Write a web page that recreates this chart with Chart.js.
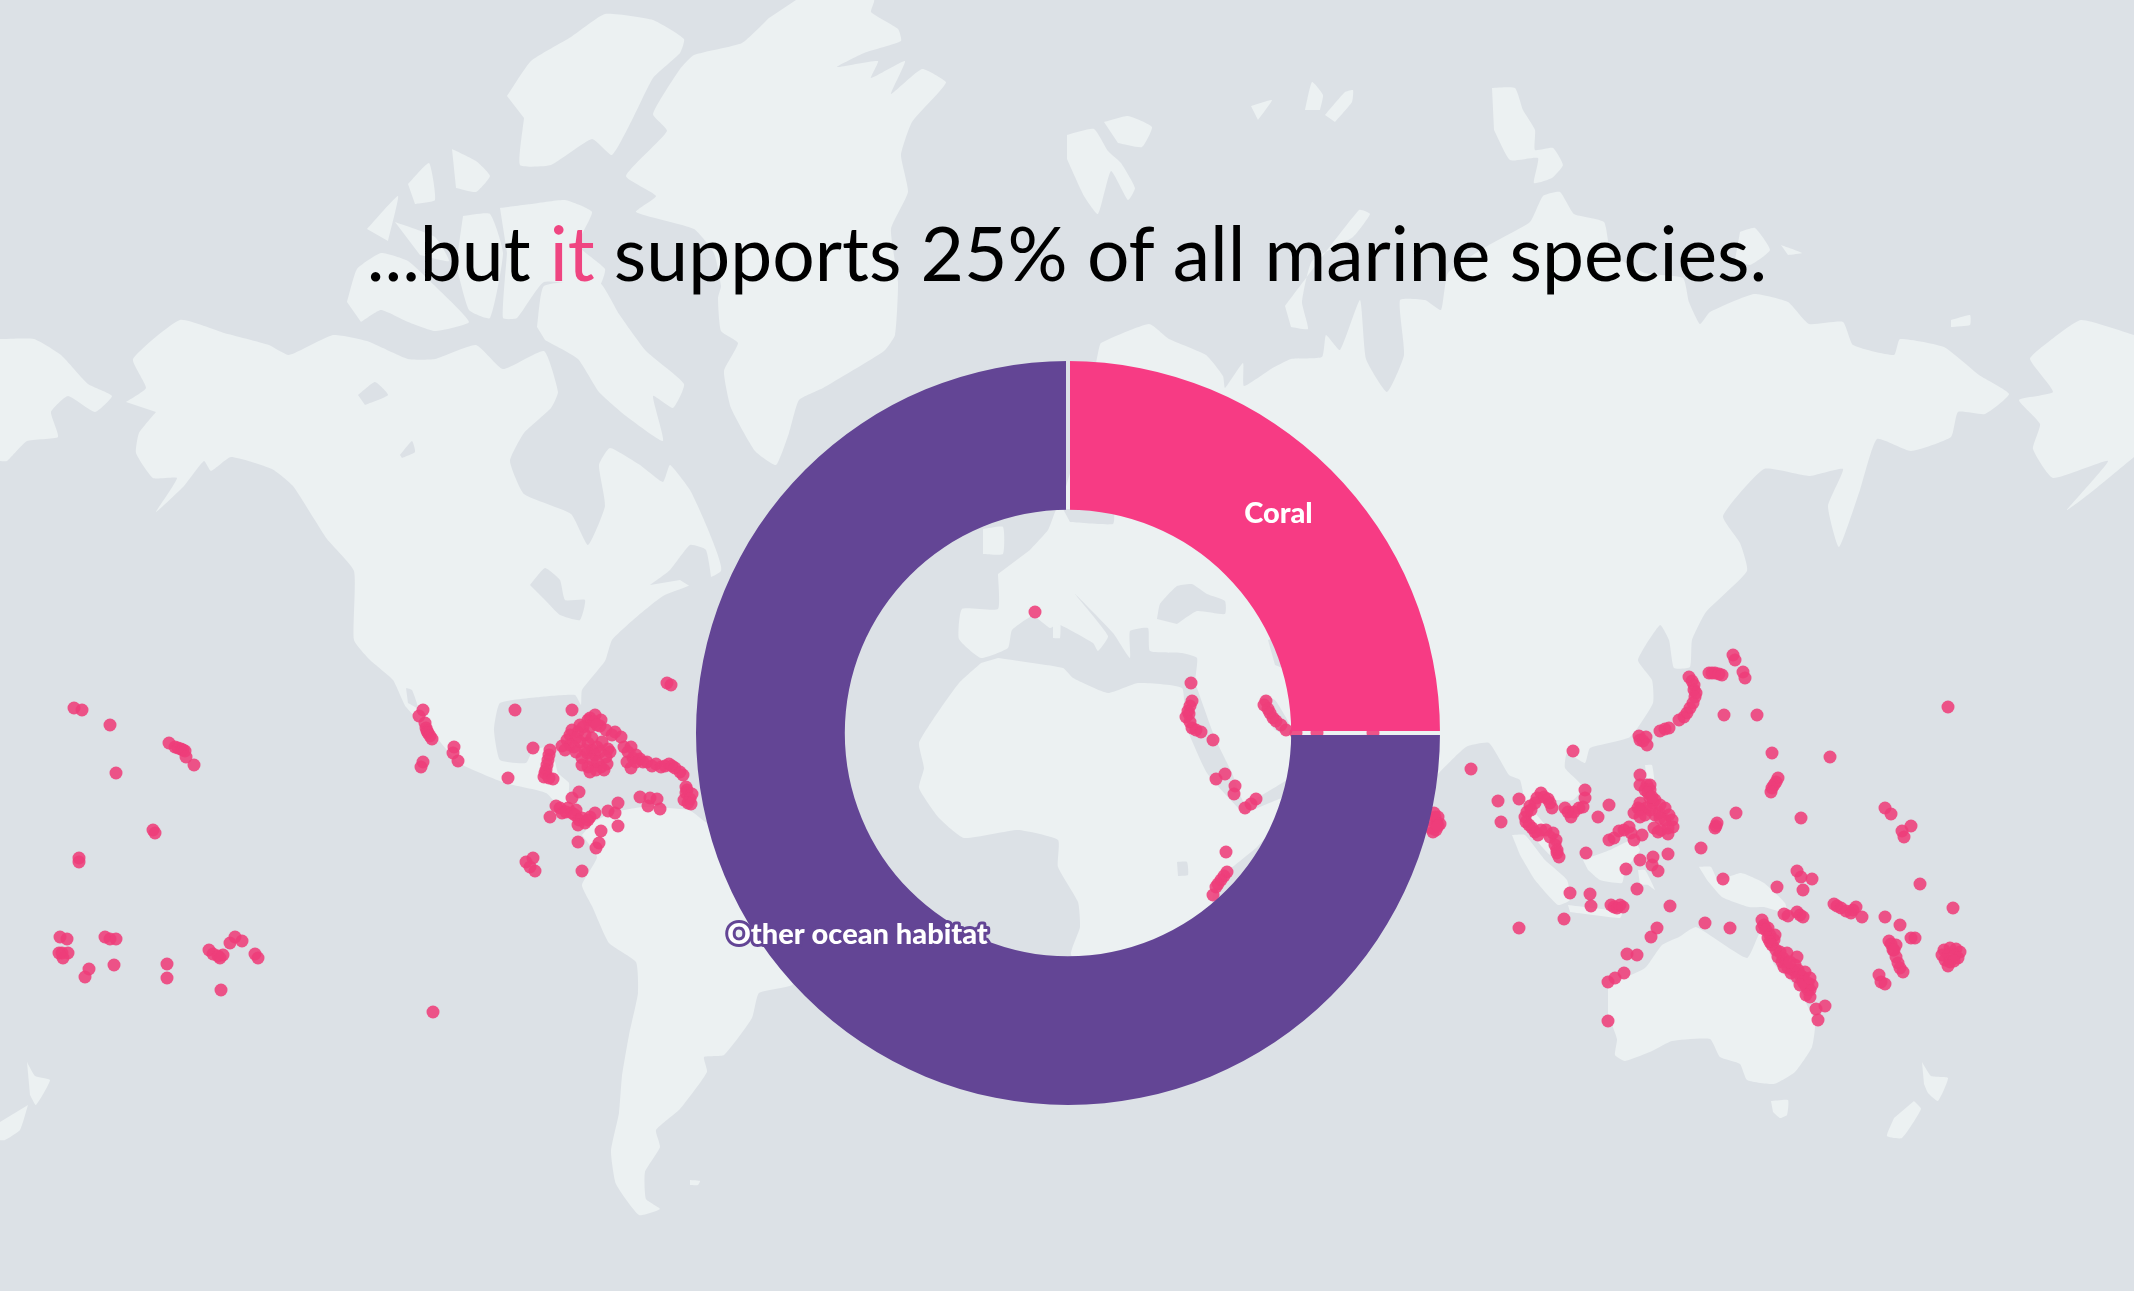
<!DOCTYPE html>
<html>
<head>
<meta charset="utf-8">
<title>Coral</title>
<script src="https://cdn.jsdelivr.net/npm/chart.js@4/dist/chart.umd.min.js"></script>
<style>
    html, body { margin: 0; padding: 0; background: #dce1e6; }
    #page { position: relative; width: 2134px; height: 1291px; overflow: hidden; }
    #mapChart { position: absolute; left: 0; top: 0; }
    #ringChart { position: absolute; left: 696px; top: 361px; }
    h1 {
        position: absolute; left: 0; top: 204px; width: 2134px; margin: 0;
        text-align: center; font: 400 75px Lato, sans-serif; line-height: 96px; color: #000;
    }
    h1 span { color: #ef4581; }
</style>
</head>
<body>
<div id="page">
    <canvas id="mapChart" width="2134" height="1291"></canvas>
    <canvas id="ringChart" width="744" height="744"></canvas>
    <h1>...but <span>it</span> supports 25% of all marine species.</h1>
</div>
<script>
// doughnut values
const habitats = ['Coral', 'Other ocean habitat'];
const speciesShare = [25, 75];

// reef sites, map units (x, y)
const reefsPacific = [[74,708],[82,710],[110,725],[116,773],[169,743],[175,747],[178,748],[181,749],[183,750],[185,751],[186,757],[194,765],[153,830],[155,833],[79,858],[79,862],[60,937],[67,939],[62,953],[68,953],[63,958],[59,953],[105,937],[110,939],[116,939],[89,969],[85,977],[114,965],[167,964],[167,978],[209,950],[213,954],[218,956],[223,955],[220,958],[230,943],[235,937],[242,941],[255,954],[258,958],[221,990],[433,1012]];
const reefsMexico = [[423,710],[419,716],[425,723],[426,728],[427,731],[428,733],[430,736],[432,739],[454,747],[453,753],[458,761],[423,762],[421,767],[508,778],[515,710],[533,748],[572,710],[667,683],[671,685]];
const reefsCaribbean = [[550,750],[549,755],[548,760],[547,765],[546,770],[545,773],[544,777],[549,778],[553,779],[595,715],[588,720],[601,720],[590,718],[594,722],[600,726],[590,727],[583,727],[597,725],[572,730],[606,730],[615,732],[621,737],[578,732],[570,735],[567,740],[576,738],[585,735],[580,742],[570,745],[562,746],[574,747],[588,743],[597,747],[608,749],[602,742],[592,750],[600,752],[587,753],[585,750],[576,752],[565,750],[610,752],[582,758],[595,755],[606,757],[592,760],[582,765],[607,764],[588,767],[601,767],[597,762],[596,770],[604,770],[590,772],[592,738],[612,735],[580,725],[624,747],[631,747],[633,758],[627,762],[628,752],[636,755],[631,768],[636,762],[640,759],[643,762],[647,762],[652,766],[656,764],[661,767],[665,766],[669,764],[672,766],[675,768],[680,772],[683,775],[686,787],[687,790],[686,793],[692,794],[684,800],[690,799],[688,803],[691,804],[640,797],[650,798],[657,799],[648,806],[660,809]];
const reefsPanama = [[579,792],[572,798],[556,806],[560,808],[568,808],[576,810],[550,817],[562,813],[566,812],[572,813],[575,815],[579,820],[582,818],[578,825],[585,823],[588,820],[595,813],[590,817],[608,811],[618,803],[615,813],[618,826],[601,831],[599,843],[596,848],[578,842],[526,862],[533,858],[530,867],[535,871],[582,871]];
const reefsRedSea = [[1035,612],[1191,683],[1192,701],[1190,706],[1188,711],[1189,714],[1186,717],[1190,722],[1192,728],[1196,730],[1201,732],[1213,740],[1225,774],[1216,779],[1235,786],[1234,794],[1256,799],[1251,804],[1245,808],[1226,852],[1227,872],[1224,876],[1221,880],[1218,884],[1216,887],[1213,895],[1266,701],[1264,705],[1268,709],[1270,713],[1273,718],[1276,721],[1281,725],[1286,730],[1296,733],[1317,733],[1373,733],[1435,817],[1437,823],[1433,832],[1431,820],[1434,813],[1438,817],[1440,824],[1431,828],[1436,830],[1438,826]];
const reefsJapan = [[1733,655],[1735,660],[1743,672],[1745,678],[1709,673],[1712,673],[1715,673],[1719,674],[1722,675],[1689,677],[1692,681],[1694,685],[1694,690],[1696,693],[1695,697],[1690,708],[1693,703],[1687,713],[1684,717],[1679,720],[1669,728],[1665,729],[1660,731],[1639,736],[1640,740],[1643,741],[1646,737],[1647,745],[1724,715],[1757,715],[1948,707],[1573,751],[1471,769],[1772,753],[1830,757],[1778,778],[1776,782],[1774,785],[1772,788],[1771,792]];
const reefsPhilippines = [[1640,775],[1650,785],[1647,785],[1640,785],[1645,790],[1650,790],[1648,793],[1650,798],[1655,800],[1640,803],[1660,805],[1634,813],[1653,803],[1665,808],[1669,815],[1659,813],[1646,808],[1652,797],[1650,810],[1655,815],[1645,815],[1640,810],[1638,808],[1665,820],[1672,820],[1660,818],[1673,827],[1654,828],[1668,834],[1661,830],[1658,832],[1668,828],[1640,817]];
const reefsSundaland = [[1498,801],[1501,822],[1519,799],[1541,793],[1544,797],[1548,799],[1550,803],[1552,808],[1537,798],[1530,806],[1535,803],[1525,817],[1527,812],[1526,822],[1531,810],[1532,828],[1529,825],[1535,832],[1538,835],[1541,830],[1546,830],[1553,833],[1550,837],[1556,840],[1555,845],[1557,850],[1557,853],[1559,857],[1565,808],[1568,812],[1571,817],[1574,812],[1579,808],[1585,790],[1585,798],[1583,807],[1598,817],[1609,805],[1619,831],[1624,830],[1629,827],[1631,833],[1609,840],[1614,838],[1634,840],[1642,835],[1586,853],[1626,869],[1640,860],[1653,857],[1652,865],[1658,871],[1668,854],[1701,848],[1717,823],[1716,826],[1715,828],[1736,813],[1801,818],[1885,808],[1891,814],[1911,826],[1902,831],[1904,837],[1920,884],[1953,908]];
const reefsMelanesia = [[1797,871],[1801,877],[1812,879],[1803,890],[1723,879],[1777,887],[1637,889],[1570,893],[1590,894],[1591,906],[1611,905],[1614,907],[1617,908],[1620,905],[1623,907],[1670,906],[1564,919],[1519,928],[1657,928],[1651,937],[1705,923],[1730,928],[1627,954],[1637,955],[1624,973],[1615,978],[1608,982],[1608,1021],[1784,914],[1788,916],[1797,912],[1800,915],[1803,917],[1834,904],[1837,906],[1841,908],[1846,911],[1851,913],[1853,910],[1856,907],[1862,917],[1885,917],[1900,925],[1911,938],[1915,938],[1891,944],[1889,941],[1893,950],[1896,945],[1896,957],[1894,950],[1898,963],[1900,968],[1903,972],[1879,975],[1885,984],[1881,982],[1944,950],[1950,948],[1956,949],[1960,952],[1942,955],[1948,955],[1955,955],[1958,958],[1945,960],[1950,962],[1954,961],[1948,966]];
const reefsBarrier = [[1762,920],[1764,925],[1762,928],[1768,928],[1766,930],[1770,935],[1775,935],[1768,938],[1774,940],[1770,942],[1772,945],[1776,950],[1780,952],[1778,957],[1783,958],[1782,962],[1786,962],[1784,967],[1788,968],[1791,973],[1793,970],[1797,977],[1798,970],[1800,975],[1803,977],[1805,972],[1805,985],[1808,983],[1812,985],[1808,990],[1810,990],[1806,995],[1810,997],[1803,982],[1800,985],[1810,978],[1787,953],[1797,957],[1795,965],[1790,962],[1816,1009],[1825,1006],[1818,1020]];

// land outlines, same map units
const landNorthAmerica = [[126,402],[146,388],[133,359],[180,320],[224,333],[269,345],[289,355],[333,335],[367,341],[408,359],[435,359],[476,345],[503,369],[544,351],[558,392],[551,408],[524,433],[510,461],[524,494],[571,514],[588,545],[605,506],[599,465],[610,448],[640,465],[663,482],[670,465],[690,490],[707,527],[721,571],[663,596],[633,620],[612,640],[605,661],[582,690],[581,705],[575,695],[540,697],[500,703],[494,730],[500,760],[526,763],[533,750],[551,747],[558,773],[569,783],[569,800],[592,817],[569,817],[546,793],[505,783],[459,763],[436,737],[406,707],[393,680],[370,660],[354,640],[354,571],[327,539],[293,486],[272,469],[231,457],[211,471],[204,461],[184,486],[156,512],[177,478],[153,478],[136,453],[139,433],[156,412]];
const landSouthAmerica = [[592,823],[611,813],[643,807],[689,810],[707,823],[760,840],[830,880],[830,940],[792,985],[759,993],[752,1018],[724,1055],[704,1057],[707,1072],[680,1109],[656,1130],[660,1147],[645,1172],[646,1199],[660,1209],[639,1215],[616,1184],[611,1151],[619,1113],[622,1076],[629,1035],[638,993],[636,962],[609,943],[592,906],[582,885],[597,857],[582,835]];
const landGreenland = [[796,0],[874,0],[871,12],[898,29],[901,41],[864,53],[837,67],[878,61],[871,78],[905,61],[891,94],[922,69],[946,82],[939,92],[912,122],[901,155],[908,192],[891,229],[898,282],[895,335],[884,351],[823,388],[799,400],[789,433],[776,465],[755,451],[731,408],[724,371],[738,343],[721,331],[718,298],[721,286],[714,253],[694,229],[636,212],[656,196],[626,176],[667,131],[653,114],[680,69],[694,55],[742,43],[769,18]];
const landEllesmere = [[507,96],[531,61],[571,37],[605,14],[653,20],[684,39],[680,53],[653,78],[633,118],[612,155],[592,139],[551,165],[520,165],[524,118]];
const landBaffin = [[537,327],[544,286],[599,282],[619,314],[646,351],[684,384],[673,408],[653,396],[663,441],[626,416],[599,392],[578,359],[545,340]];
const landBanks = [[347,302],[357,269],[381,253],[408,261],[435,286],[469,322],[435,331],[408,322],[381,310],[361,322]];
const landArcticA = [[367,229],[398,196],[388,241]];
const landArcticB = [[408,184],[429,163],[435,200],[415,204]];
const landArcticC = [[463,216],[490,214],[503,253],[490,318],[469,310],[456,265]];
const landArcticD = [[500,208],[531,204],[565,200],[592,212],[578,245],[605,269],[599,286],[544,282],[517,318],[503,318],[507,253]];
const landArcticE = [[452,149],[476,161],[490,176],[476,192],[456,188]];
const landArcticF = [[395,222],[435,237],[449,261],[420,255]];
const landEurasia = [[998,574],[998,609],[962,609],[959,639],[981,658],[1008,648],[1012,630],[1033,616],[1050,628],[1058,624],[1093,643],[1098,651],[1108,636],[1075,594],[1113,633],[1130,658],[1130,631],[1148,628],[1150,651],[1182,653],[1197,658],[1195,683],[1197,688],[1215,738],[1232,773],[1245,803],[1287,780],[1320,760],[1330,740],[1380,735],[1385,790],[1400,860],[1425,790],[1439,773],[1466,747],[1489,743],[1509,775],[1520,780],[1525,800],[1545,825],[1555,850],[1550,855],[1533,835],[1530,800],[1552,800],[1573,800],[1583,787],[1565,768],[1567,753],[1585,763],[1590,748],[1630,737],[1653,703],[1652,680],[1638,660],[1660,625],[1669,640],[1674,668],[1690,667],[1692,640],[1706,612],[1747,571],[1740,543],[1723,516],[1764,469],[1809,476],[1843,469],[1828,506],[1839,547],[1860,490],[1877,439],[1911,451],[1951,437],[1958,412],[1985,414],[2009,394],[1979,375],[1944,347],[1900,339],[1894,355],[1853,345],[1843,322],[1809,324],[1788,302],[1754,294],[1710,312],[1700,324],[1689,302],[1683,278],[1645,273],[1611,253],[1604,222],[1574,214],[1560,192],[1543,196],[1530,222],[1489,245],[1448,273],[1441,310],[1425,300],[1400,300],[1404,355],[1387,392],[1366,359],[1360,300],[1340,350],[1326,335],[1322,357],[1291,359],[1271,369],[1244,386],[1243,363],[1225,388],[1223,376],[1206,355],[1169,339],[1149,324],[1101,343],[1098,353],[1085,420],[1065,490],[1055,512],[1048,530],[1030,550]];
const landAfrica = [[981,663],[959,683],[934,718],[919,743],[924,768],[919,788],[939,818],[964,838],[1018,830],[1058,840],[1058,867],[1078,902],[1080,927],[1071,954],[1090,1000],[1130,1060],[1170,1040],[1210,980],[1213,895],[1227,872],[1257,847],[1300,800],[1320,790],[1282,798],[1245,813],[1240,810],[1207,773],[1185,723],[1182,688],[1138,683],[1108,693],[1073,678],[1063,668],[998,658]];
const landBritain = [[983,529],[1003,527],[1003,554],[983,554]];
const landCorsica = [[1053,616],[1060,616],[1060,638],[1053,638]];
const landAlaskaWrap = [[2134,335],[2081,320],[2047,343],[2030,359],[2053,392],[2019,400],[2040,424],[2033,449],[2053,478],[2108,461],[2067,510],[2094,490],[2134,457]];
const landChukotkaWrap = [[0,339],[34,339],[61,355],[88,384],[112,396],[95,412],[68,396],[51,412],[58,437],[27,441],[7,461],[0,461]];
const landSumatra = [[1512,835],[1525,835],[1545,860],[1567,880],[1570,900],[1558,905],[1535,880],[1520,855]];
const landJava = [[1568,905],[1622,912],[1620,918],[1570,912]];
const landBorneo = [[1583,860],[1610,850],[1632,840],[1640,850],[1625,870],[1622,883],[1600,880],[1588,870]];
const landSulawesi = [[1638,870],[1645,870],[1655,890],[1648,885],[1640,885]];
const landLuzon = [[1645,765],[1652,765],[1655,790],[1648,790]];
const landNewGuinea = [[1699,867],[1711,867],[1718,880],[1741,873],[1764,883],[1785,903],[1787,913],[1764,907],[1749,907],[1722,897],[1707,880]];
const landAustralia = [[1608,985],[1645,968],[1662,945],[1679,937],[1696,927],[1747,958],[1761,931],[1774,964],[1798,989],[1815,1022],[1812,1047],[1795,1072],[1774,1084],[1747,1080],[1740,1064],[1720,1057],[1710,1039],[1672,1041],[1652,1051],[1625,1061],[1615,1055],[1617,1039],[1608,1014]];
const landTasmania = [[1771,1101],[1788,1100],[1787,1115],[1780,1118],[1773,1112]];
const landNewZealandN = [[1922,1062],[1931,1076],[1948,1078],[1938,1101],[1928,1093],[1924,1084]];
const landNewZealandS = [[1914,1101],[1921,1109],[1902,1138],[1887,1136],[1894,1118]];
const landNewZealandWrapN = [[27,1062],[35,1076],[50,1080],[36,1105],[30,1095]];
const landNewZealandWrapS = [[28,1105],[20,1130],[5,1140],[0,1140],[0,1122]];
const landFalklands = [[690,1180],[700,1181],[698,1185],[690,1185]];
const landNovayaZemlya = [[1285,306],[1359,210],[1370,214],[1353,237],[1312,261],[1302,302],[1308,329],[1291,327]];
const landSvalbardA = [[1067,135],[1094,129],[1108,151],[1121,163],[1135,188],[1128,200],[1111,171],[1098,214],[1084,196],[1067,159]];
const landSvalbardB = [[1104,122],[1128,116],[1152,127],[1142,147],[1118,143]];
const landFranzA = [[1251,106],[1272,100],[1258,120]];
const landFranzB = [[1305,110],[1312,82],[1323,95],[1320,110]];
const landFranzC = [[1325,115],[1345,92],[1353,90],[1352,102],[1335,122]];
const landSevernaya = [[1492,88],[1515,88],[1523,110],[1535,130],[1535,150],[1553,148],[1563,165],[1552,178],[1534,183],[1538,158],[1510,160],[1494,130]];
const landSiberianA = [[1951,320],[1970,315],[1970,325],[1951,327]];
const landSiberianB = [[1781,245],[1802,253],[1788,255]];
const landSiberianC = [[1740,232],[1755,228],[1770,250],[1750,265],[1735,260]];

// seas and lakes painted over the land
const waterBlackSea = [[1157,619],[1160,604],[1177,586],[1192,584],[1207,594],[1225,601],[1225,614],[1197,611],[1177,624]];
const waterPersianGulf = [[1262,695],[1275,700],[1290,725],[1290,735],[1275,730],[1262,712]];
const waterCaspian = [[1268,640],[1285,635],[1290,670],[1275,665]];
const waterBaltic = [[1063,509],[1113,509],[1113,524],[1070,522]];
const waterVictoria = [[1177,862],[1187,862],[1188,875],[1178,876]];
const waterGreatLakes = [[530,585],[545,568],[560,580],[565,600],[585,600],[580,620],[560,615],[545,600]];
const waterStLawrence = [[650,585],[670,570],[690,545],[706,550],[712,590],[700,592],[680,580]];
const waterBearLake = [[358,395],[375,382],[388,395],[365,405]];
const waterSlaveLake = [[400,455],[412,441],[415,452],[402,458]];
const waterCalifornia = [[406,688],[412,690],[418,708],[408,703]];

const reefs = [reefsPacific, reefsMexico, reefsCaribbean, reefsPanama, reefsRedSea, reefsJapan, reefsPhilippines, reefsSundaland, reefsMelanesia, reefsBarrier];
const lands = [landNorthAmerica, landSouthAmerica, landGreenland, landEllesmere, landBaffin, landBanks, landArcticA, landArcticB, landArcticC, landArcticD, landArcticE, landArcticF, landEurasia, landAfrica, landBritain, landCorsica, landAlaskaWrap, landChukotkaWrap, landSumatra, landJava, landBorneo, landSulawesi, landLuzon, landNewGuinea, landAustralia, landTasmania, landNewZealandN, landNewZealandS, landNewZealandWrapN, landNewZealandWrapS, landFalklands, landNovayaZemlya, landSvalbardA, landSvalbardB, landFranzA, landFranzB, landFranzC, landSevernaya, landSiberianA, landSiberianB, landSiberianC];
const waters = [waterBlackSea, waterPersianGulf, waterCaspian, waterBaltic, waterVictoria, waterGreatLakes, waterStLawrence, waterBearLake, waterSlaveLake, waterCalifornia];

const OCEAN = '#dce1e6';
const LAND = '#ecf1f2';
const REEF = 'rgba(238, 62, 122, 0.88)';

const toPoints = pairs => pairs.map(([x, y]) => ({ x, y }));

function shape(pairs, color, order) {
    return {
        data: toPoints(pairs),
        showLine: true,
        fill: 'shape',
        backgroundColor: color,
        borderWidth: 0,
        pointRadius: 0,
        tension: 0.15,
        order
    };
}

new Chart(document.getElementById('mapChart'), {
    type: 'scatter',
    data: {
        datasets: [
            { data: toPoints(reefs.flat()), backgroundColor: REEF, borderWidth: 0, pointRadius: 6.5, order: 0 },
            ...waters.map(w => shape(w, OCEAN, 1)),
            ...lands.map(l => shape(l, LAND, 2))
        ]
    },
    options: {
        responsive: false,
        animation: false,
        layout: { padding: 0, autoPadding: false },
        plugins: { legend: { display: false }, tooltip: { enabled: false } },
        scales: {
            x: { type: 'linear', display: false, min: 0, max: 2134 },
            y: { type: 'linear', display: false, min: 0, max: 1291, reverse: true }
        }
    }
});

// the library's spacing option makes the big slice's gap wider, so cut even slits instead
// then slice names, Coral plain, the long one with a purple halo since it leaves the ring
const sliceLabels = {
    id: 'sliceLabels',
    afterDatasetsDraw(chart) {
        const ctx = chart.ctx;
        const arc = chart.getDatasetMeta(0).data[0];
        const mid = (arc.innerRadius + arc.outerRadius) / 2;
        const off = mid * Math.SQRT1_2;
        ctx.save();
        ctx.globalCompositeOperation = 'destination-out';
        ctx.fillRect(arc.x - 2, arc.y - arc.outerRadius - 1, 4, arc.outerRadius - arc.innerRadius + 2);
        ctx.fillRect(arc.x + arc.innerRadius - 1, arc.y - 2, arc.outerRadius - arc.innerRadius + 2, 4);
        ctx.globalCompositeOperation = 'source-over';
        ctx.font = '900 29px Lato, sans-serif';
        ctx.textAlign = 'center';
        ctx.textBaseline = 'middle';
        ctx.lineJoin = 'round';
        ctx.fillStyle = '#fff';
        ctx.fillText(habitats[0], arc.x + off, arc.y - off - 9);
        ctx.strokeStyle = '#634595';
        ctx.lineWidth = 6;
        ctx.strokeText(habitats[1], arc.x - off, arc.y + off - 9);
        ctx.fillText(habitats[1], arc.x - off, arc.y + off - 9);
        ctx.restore();
    }
};

new Chart(document.getElementById('ringChart'), {
    type: 'doughnut',
    data: {
        labels: habitats,
        datasets: [{
            data: speciesShare,
            backgroundColor: ['#f73b84', '#634595'],
            borderWidth: 0
        }]
    },
    options: {
        responsive: false,
        animation: false,
        cutout: '60%',
        plugins: { legend: { display: false }, tooltip: { enabled: false } }
    },
    plugins: [sliceLabels]
});
</script>
</body>
</html>
